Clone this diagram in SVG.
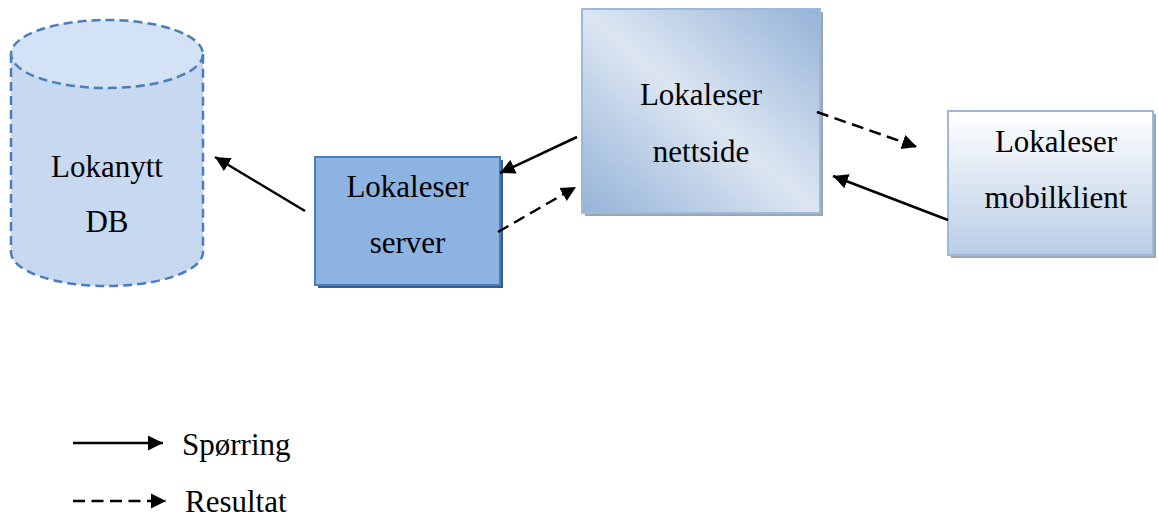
<svg xmlns="http://www.w3.org/2000/svg" width="1158" height="519" viewBox="0 0 1158 519">
  <style>
    .lbl { font-family: "Liberation Serif", "Times New Roman", serif; font-size: 31px; fill: #000; text-anchor: middle; }
    .leg { font-family: "Liberation Serif", "Times New Roman", serif; font-size: 31px; fill: #000; }
    .solid { stroke: #000; stroke-width: 2.5; fill: none; marker-end: url(#head); }
    .dash { stroke: #000; stroke-width: 2.5; fill: none; stroke-dasharray: 12 6.5; marker-end: url(#head); }
    .dbline { stroke: #4a7ebb; stroke-width: 2.5; stroke-dasharray: 9 5; }
  </style>
  <defs>
    <marker id="head" markerUnits="userSpaceOnUse" markerWidth="16" markerHeight="16" refX="15" refY="8" orient="auto">
      <path d="M0,0.5 L15,8 L0,15.5 Z" fill="#000"/>
    </marker>
    <linearGradient id="webGrad" x1="0" y1="1" x2="1" y2="0">
      <stop offset="0" stop-color="#95b3d7"/>
      <stop offset="0.5" stop-color="#dce6f2"/>
      <stop offset="1" stop-color="#95b3d7"/>
    </linearGradient>
    <linearGradient id="mobGrad" x1="0" y1="0" x2="0" y2="1">
      <stop offset="0" stop-color="#ffffff"/>
      <stop offset="1" stop-color="#b9cde5"/>
    </linearGradient>
  </defs>

  <!-- database cylinder -->
  <g id="db">
    <path d="M11,54 L11,252 A96,34 0 0 0 203,252 L203,54 Z" fill="#c6d9f0"/>
    <ellipse cx="107" cy="54" rx="96" ry="34" fill="#d3e2f4"/>
    <path class="dbline" fill="none" d="M11,54 L11,252 A96,34 0 0 0 203,252 L203,54"/>
    <ellipse class="dbline" fill="none" cx="107" cy="54" rx="96" ry="34"/>
    <text class="lbl" x="107" y="177">Lokanytt</text>
    <text class="lbl" x="107" y="232">DB</text>
  </g>

  <!-- server box -->
  <g id="server">
    <rect x="318" y="160" width="185" height="128" fill="#385d8a"/>
    <rect x="315" y="157" width="185" height="128" fill="#8db3e2" stroke="#4a7ebb" stroke-width="2"/>
    <text class="lbl" x="407.5" y="197">Lokaleser</text>
    <text class="lbl" x="407.5" y="253">server</text>
  </g>

  <!-- web page box -->
  <g id="nettside">
    <rect x="585" y="12" width="238" height="204" fill="#9aa6b5"/>
    <rect x="582" y="9" width="238" height="204" fill="url(#webGrad)" stroke="#9cb9dc" stroke-width="2"/>
    <text class="lbl" x="701" y="105">Lokaleser</text>
    <text class="lbl" x="701" y="162">nettside</text>
  </g>

  <!-- mobile client box -->
  <g id="mobilklient">
    <rect x="951" y="114" width="205" height="144" fill="#9aa6b5"/>
    <rect x="948" y="111" width="205" height="144" fill="url(#mobGrad)" stroke="#9cb9dc" stroke-width="2"/>
    <text class="lbl" x="1056" y="152">Lokaleser</text>
    <text class="lbl" x="1056" y="208">mobilklient</text>
  </g>

  <!-- connectors -->
  <g id="connectors">
    <line class="solid" x1="305" y1="211" x2="215" y2="157"/>
    <line class="solid" x1="577" y1="137" x2="500" y2="173"/>
    <line class="dash" x1="498" y1="232" x2="576" y2="187"/>
    <line class="dash" x1="817" y1="112" x2="917" y2="147"/>
    <line class="solid" x1="948" y1="220" x2="833" y2="176"/>
  </g>

  <!-- legend -->
  <g id="legend">
    <line class="solid" x1="73" y1="443" x2="163" y2="443"/>
    <text class="leg" x="182" y="455">Spørring</text>
    <line class="dash" x1="73" y1="501" x2="166" y2="501"/>
    <text class="leg" x="185" y="512">Resultat</text>
  </g>
</svg>
